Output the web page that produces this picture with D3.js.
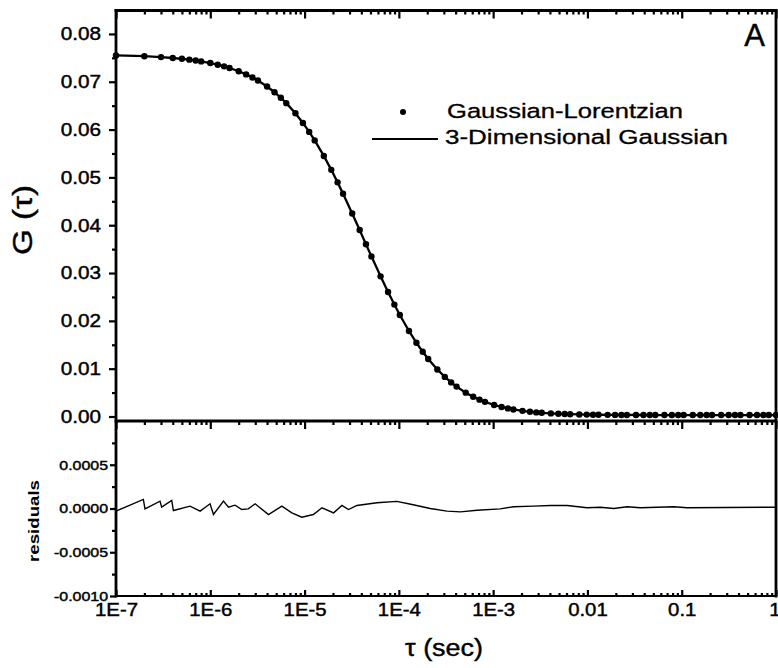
<!DOCTYPE html>
<html>
<head>
<meta charset="utf-8">
<script src="https://cdn.jsdelivr.net/npm/d3@7"></script>
<style>
  body { margin: 0; background: #fff; }
  text { font-family: "Liberation Sans", Arial, sans-serif; fill: #000; }
</style>
</head>
<body>
<div id="chart"></div>
<script>
// correlation curve (Gaussian-Lorentzian points, 3D Gaussian fit drawn through them)
var tau = [1e-7, 2e-7, 3e-7, 4e-7, 5e-7, 6e-7, 7e-7, 8e-7,
  1.0e-6, 1.2e-6, 1.4e-6, 1.6e-6, 2.0e-6, 2.4e-6, 2.8e-6, 3.2e-6, 4.0e-6, 4.8e-6, 5.6e-6, 6.4e-6, 8.0e-6, 9.6e-6,
  1.12e-5, 1.28e-5, 1.6e-5, 1.92e-5, 2.24e-5, 2.56e-5, 3.2e-5, 3.84e-5, 4.48e-5, 5.12e-5, 6.4e-5, 7.68e-5, 8.96e-5,
  1.024e-4, 1.28e-4, 1.536e-4, 1.792e-4, 2.048e-4, 2.56e-4, 3.072e-4, 3.584e-4, 4.096e-4, 5.12e-4, 6.144e-4, 7.168e-4, 8.192e-4,
  1.024e-3, 1.229e-3, 1.434e-3, 1.638e-3, 2.048e-3, 2.458e-3, 2.867e-3, 3.277e-3, 4.096e-3, 4.915e-3, 5.734e-3, 6.554e-3, 8.192e-3, 9.83e-3,
  1.147e-2, 1.311e-2, 1.638e-2, 1.966e-2, 2.294e-2, 2.621e-2, 3.277e-2, 3.932e-2, 4.588e-2, 5.243e-2, 6.554e-2, 7.864e-2, 9.175e-2,
  0.1049, 0.1311, 0.1573, 0.1835, 0.2097, 0.2621, 0.3146, 0.367, 0.4194, 0.5243, 0.6291, 0.734, 0.8389, 1.0]
var gValues = [0.0755, 0.07534, 0.07516, 0.07497, 0.0748, 0.07462, 0.07444, 0.07426,
  0.07391, 0.07356, 0.07322, 0.07288, 0.0722, 0.07154, 0.07089, 0.07026, 0.06901, 0.06781, 0.06665, 0.06553, 0.0634, 0.06139,
  0.05951, 0.05774, 0.05449, 0.05158, 0.04896, 0.04659, 0.04246, 0.03899, 0.03603, 0.03348, 0.02931, 0.02603, 0.0234,
  0.02123, 0.01789, 0.01542, 0.01353, 0.01204, 0.00983, 0.00828, 0.00713, 0.00625, 0.00499, 0.00413, 0.00352, 0.00306,
  0.00241, 0.00199, 0.0017, 0.00148, 0.00118, 0.00099, 0.00086, 0.00077, 0.00065, 0.00057, 0.00052, 0.00048, 0.00043, 0.0004,
  0.00038, 0.00037, 0.00035, 0.00034, 0.00033, 0.00032, 0.00031, 0.00031, 0.0003, 0.0003, 0.0003, 0.0003, 0.0003,
  0.0003, 0.0003, 0.0003, 0.0003, 0.0003, 0.0003, 0.0003, 0.0003, 0.0003, 0.0003, 0.0003, 0.0003, 0.0003, 0.0003]

// residuals
var resTau = [1e-7, 1.95e-7, 2.03e-7, 2.93e-7, 3.05e-7, 3.9e-7, 4.06e-7, 6.1e-7, 7.8e-7, 9.95e-7,
  1.08e-6, 1.38e-6, 1.56e-6, 1.83e-6, 2.16e-6, 2.53e-6, 2.99e-6, 4.14e-6, 5.74e-6, 7.33e-6, 9.35e-6,
  1.24e-5, 1.53e-5, 2.03e-5, 2.49e-5, 2.92e-5, 3.59e-5, 5.86e-5, 9.5e-5, 1.38e-4, 2.15e-4, 3.24e-4, 4.49e-4, 6.75e-4,
  1.19e-3, 1.65e-3, 2.69e-3, 4.05e-3, 6.09e-3, 9.93e-3, 1.37e-2, 1.9e-2, 2.64e-2, 3.65e-2, 8.24e-2, 0.114, 0.95, 1.0]
var resValues = [-0.00003, 0.000104, -0.000004, 0.000084, 0.000015, 0.000092, -0.000023, 0.000027, -0.00003, 0.000054,
  -0.000069, 0.000084, 0.000015, 0.000038, -0.000012, -0.000004, 0.000054, -0.000069, 0.000027, -0.00005, -0.0001,
  -0.000069, 0.000008, -0.00005, 0.000035, -0.000012, 0.000035, 0.000066, 0.000081, 0.000046, 0, -0.00003, -0.000038, -0.00002,
  -0.000004, 0.00002, 0.000027, 0.000035, 0.000035, 0.000008, 0.000015, 0, 0.00002, 0.000008, 0.00002, 0.000008, 0.000015, 0.000015]

// ticks
var xMajor = [1e-7, 1e-6, 1e-5, 1e-4, 1e-3, 0.01, 0.1, 1]
var xLabels = ['1E-7', '1E-6', '1E-5', '1E-4', '1E-3', '0.01', '0.1', '1']
var yTopTicks = [0, 0.01, 0.02, 0.03, 0.04, 0.05, 0.06, 0.07, 0.08]
var yTopLabels = ['0.00', '0.01', '0.02', '0.03', '0.04', '0.05', '0.06', '0.07', '0.08']
var yTopMinor = [0.005, 0.015, 0.025, 0.035, 0.045, 0.055, 0.065, 0.075]
var yBotTicks = [-0.001, -0.0005, 0, 0.0005]
var yBotLabels = ['-0.0010', '-0.0005', '0.0000', '0.0005']
var yBotMinor = [-0.00075, -0.00025, 0.00025, 0.00075]

var W = 778, H = 668
var svg = d3.select('#chart').append('svg')
  .attr('width', W)
  .attr('height', H)

// panel edges (pixels)
var edgeL = 116, edgeR = 776, edgeT = 10.5, edgeMid = 421, edgeB = 596

var x = d3.scaleLog().domain([1e-7, 1]).range([edgeL, edgeR])
var yTop = d3.scaleLinear().domain([-0.00094, 0.0849]).range([edgeMid, edgeT])
var yBot = d3.scaleLinear().domain([-0.001, 0.001]).range([edgeB, edgeMid])

var xMinor = x.ticks().filter(function (d) {
  var l = Math.log10(d)
  return Math.abs(l - Math.round(l)) > 1e-6
})

// stretch text a bit wider, the scanned figure is wider than Arial
function stretch(sel, k) {
  sel.each(function () {
    var w = this.getComputedTextLength()
    d3.select(this).attr('textLength', w * k).attr('lengthAdjust', 'spacingAndGlyphs')
  })
}

function styleAxis(g, size) {
  g.select('.domain').remove()
  g.selectAll('line').attr('stroke', '#000').attr('stroke-width', 2.2)
  g.selectAll('text')
    .style('font-family', '"Liberation Sans", Arial, sans-serif')
    .style('font-size', size + 'px')
    .attr('fill', '#000')
    .attr('stroke', '#000')
    .attr('stroke-width', 0.45)
}

// ----- left axes
var gl = svg.append('g').attr('transform', 'translate(' + edgeL + ',0)')
  .call(d3.axisLeft(yTop).tickValues(yTopTicks).tickSize(7).tickPadding(8)
    .tickFormat(function (d, i) { return yTopLabels[i] }))
styleAxis(gl, 18.5)
stretch(gl.selectAll('text'), 1.12)
styleAxis(svg.append('g').attr('transform', 'translate(' + edgeL + ',0)')
  .call(d3.axisLeft(yTop).tickValues(yTopMinor).tickSize(4).tickFormat('')), 10)

var gb = svg.append('g').attr('transform', 'translate(' + edgeL + ',0)')
  .call(d3.axisLeft(yBot).tickValues(yBotTicks).tickSize(6).tickPadding(2)
    .tickFormat(function (d, i) { return yBotLabels[i] }))
styleAxis(gb, 13.5)
stretch(gb.selectAll('text'), 1.18)
styleAxis(svg.append('g').attr('transform', 'translate(' + edgeL + ',0)')
  .call(d3.axisLeft(yBot).tickValues(yBotMinor).tickSize(4).tickFormat('')), 10)

// ----- x axes: top of upper panel, panel divider, bottom
styleAxis(svg.append('g').attr('transform', 'translate(0,' + edgeT + ')')
  .call(d3.axisTop(x).tickValues(xMajor).tickSize(-8).tickFormat('')), 10)
styleAxis(svg.append('g').attr('transform', 'translate(0,' + edgeT + ')')
  .call(d3.axisTop(x).tickValues(xMinor).tickSize(-4).tickFormat('')), 10)
styleAxis(svg.append('g').attr('transform', 'translate(0,' + edgeMid + ')')
  .call(d3.axisBottom(x).tickValues(xMajor).tickSize(8).tickFormat('')), 10)
styleAxis(svg.append('g').attr('transform', 'translate(0,' + edgeMid + ')')
  .call(d3.axisBottom(x).tickValues(xMinor).tickSize(4).tickFormat('')), 10)

var gx = svg.append('g').attr('transform', 'translate(0,' + edgeB + ')')
  .call(d3.axisBottom(x).tickValues(xMajor).tickSizeInner(-6).tickSizeOuter(0).tickPadding(7)
    .tickFormat(function (d, i) { return xLabels[i] }))
styleAxis(gx, 18.5)
stretch(gx.selectAll('text'), 1.1)
// last label sits on the right edge, keep it inside the picture
gx.selectAll('text').filter(function (d) { return d === 1 }).attr('text-anchor', 'end').attr('dx', 4)
styleAxis(svg.append('g').attr('transform', 'translate(0,' + edgeB + ')')
  .call(d3.axisBottom(x).tickValues(xMinor).tickSize(-3).tickFormat('')), 10)

// ----- frame
var frame = svg.append('g').attr('stroke', '#000').attr('stroke-linecap', 'square')
frame.append('line').attr('x1', edgeL).attr('x2', edgeL).attr('y1', edgeT).attr('y2', edgeB).attr('stroke-width', 2.8)
frame.append('line').attr('x1', edgeR).attr('x2', edgeR).attr('y1', edgeT).attr('y2', edgeB).attr('stroke-width', 2.8)
frame.append('line').attr('x1', edgeL).attr('x2', edgeR).attr('y1', edgeT).attr('y2', edgeT).attr('stroke-width', 2.8)
frame.append('line').attr('x1', edgeL).attr('x2', edgeR).attr('y1', edgeMid).attr('y2', edgeMid).attr('stroke-width', 2.8)
frame.append('line').attr('x1', edgeL).attr('x2', edgeR).attr('y1', edgeB).attr('y2', edgeB).attr('stroke-width', 2.2)

// ----- curve + points
var curve = tau.map(function (t, i) { return [t, gValues[i]] })
var line = d3.line()
  .x(function (d) { return x(d[0]) })
  .y(function (d) { return yTop(d[1]) })

svg.append('path')
  .datum(curve)
  .attr('fill', 'none')
  .attr('stroke', '#000')
  .attr('stroke-width', 2.3)
  .attr('d', line)

svg.selectAll('.pt')
  .data(curve)
  .enter()
  .append('circle')
  .attr('class', 'pt')
  .attr('cx', function (d) { return x(d[0]) })
  .attr('cy', function (d) { return yTop(d[1]) })
  .attr('r', 3.2)
  .attr('fill', '#000')

// ----- residuals
var res = resTau.map(function (t, i) { return [t, resValues[i]] })
svg.append('path')
  .datum(res)
  .attr('fill', 'none')
  .attr('stroke', '#000')
  .attr('stroke-width', 1.4)
  .attr('stroke-linejoin', 'miter')
  .attr('d', d3.line().x(function (d) { return x(d[0]) }).y(function (d) { return yBot(d[1]) }))

// ----- legend
svg.append('circle').attr('cx', 403).attr('cy', 112).attr('r', 3).attr('fill', '#000')
svg.append('text').attr('x', 447).attr('y', 117.5).style('font-size', '20.5px')
  .attr('stroke', '#000').attr('stroke-width', 0.3)
  .attr('textLength', 236).attr('lengthAdjust', 'spacingAndGlyphs')
  .text('Gaussian-Lorentzian')
svg.append('line').attr('x1', 372).attr('x2', 438).attr('y1', 139).attr('y2', 139)
  .attr('stroke', '#000').attr('stroke-width', 2.2)
svg.append('text').attr('x', 445).attr('y', 143.5).style('font-size', '20.5px')
  .attr('stroke', '#000').attr('stroke-width', 0.3)
  .attr('textLength', 283).attr('lengthAdjust', 'spacingAndGlyphs')
  .text('3-Dimensional Gaussian')

// ----- titles
svg.append('text').attr('x', 765).attr('y', 46).attr('text-anchor', 'end')
  .attr('stroke', '#000').attr('stroke-width', 0.4)
  .style('font-size', '31px').text('A')

svg.append('text')
  .attr('transform', 'translate(32,220) rotate(-90)')
  .attr('text-anchor', 'middle')
  .style('font-size', '27px')
  .attr('stroke', '#000').attr('stroke-width', 0.4)
  .attr('textLength', 70).attr('lengthAdjust', 'spacingAndGlyphs')
  .text('G (\u03c4)')

svg.append('text')
  .attr('transform', 'translate(39,521) rotate(-90)')
  .attr('text-anchor', 'middle')
  .style('font-size', '15px')
  .style('font-weight', 'bold')
  .attr('textLength', 82).attr('lengthAdjust', 'spacingAndGlyphs')
  .text('residuals')

svg.append('text')
  .attr('x', 444).attr('y', 656)
  .attr('text-anchor', 'middle')
  .style('font-size', '23px')
  .attr('stroke', '#000').attr('stroke-width', 0.4)
  .attr('textLength', 78).attr('lengthAdjust', 'spacingAndGlyphs')
  .text('\u03c4 (sec)')
</script>
</body>
</html>
